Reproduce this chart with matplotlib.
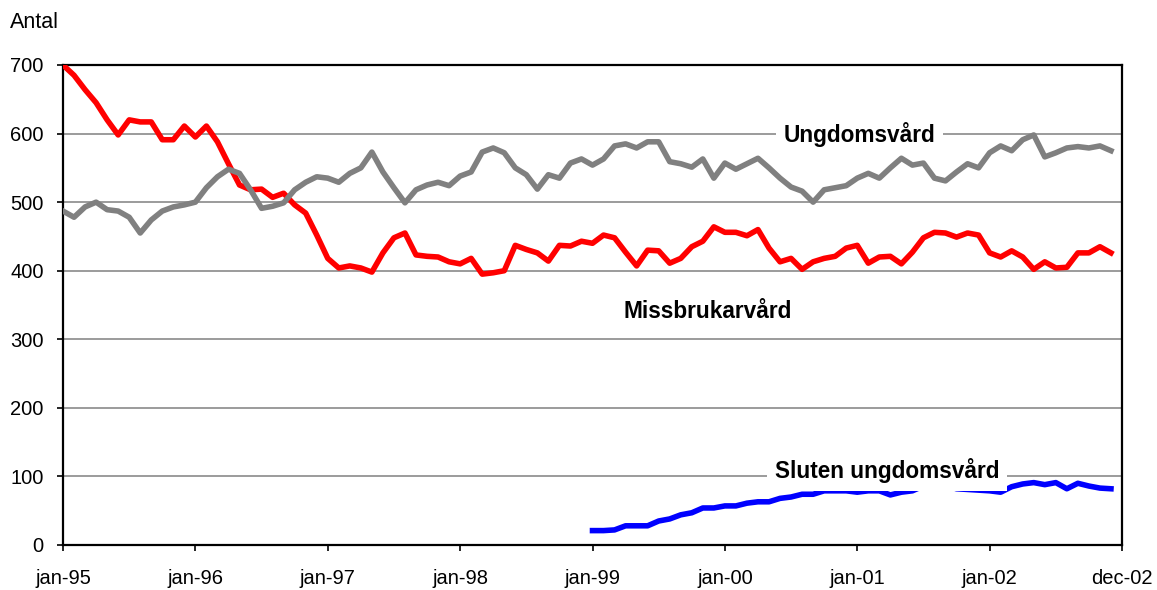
import numpy as np
import matplotlib
matplotlib.use("Agg")
import matplotlib.pyplot as plt

plt.rcParams['font.family'] = ['Liberation Sans', 'DejaVu Sans']

# monthly values, jan-95 .. dec-02
missbruk = [700, 685, 664, 645, 620, 598, 620, 617, 617, 591, 591, 611,
            595, 611, 588, 556, 525, 518, 519, 507, 513, 496, 484, 452,
            418, 404, 407, 404, 398, 426, 448, 455, 423, 421, 420, 413,
            410, 418, 395, 397, 400, 437, 431, 426, 414, 437, 436, 443,
            440, 452, 448, 427, 407, 430, 429, 411, 418, 435, 443, 464,
            456, 456, 451, 460, 433, 413, 418, 402, 413, 418, 421, 433,
            437, 411, 420, 421, 410, 427, 448, 456, 455, 449, 455, 452,
            426, 420, 429, 420, 402, 413, 404, 405, 426, 426, 435, 426]

ungdom = [487, 478, 493, 500, 489, 487, 478, 455, 474, 487, 493, 496,
          500, 521, 537, 548, 542, 518, 491, 494, 499, 518, 529, 537,
          535, 529, 542, 550, 573, 544, 521, 499, 518, 525, 529, 524,
          538, 544, 573, 579, 572, 550, 540, 519, 540, 535, 557, 563,
          554, 563, 582, 585, 579, 588, 588, 559, 556, 551, 563, 535,
          557, 548, 556, 564, 550, 535, 522, 516, 500, 518, 521, 524,
          535, 542, 535, 550, 564, 554, 557, 535, 531, 544, 556, 550,
          572, 582, 575, 591, 598, 566, 572, 579, 581, 579, 582, 575]

# starts jan-99
sluten = [21, 21, 22, 28, 28, 28, 35, 38, 44, 47, 54, 54,
          57, 57, 61, 63, 63, 68, 70, 74, 74, 79, 79, 79,
          77, 79, 79, 73, 77, 79, 86, 88, 87, 82, 81, 80,
          79, 77, 85, 89, 91, 88, 91, 82, 90, 86, 83, 82]

tick_labels = ['jan-95', 'jan-96', 'jan-97', 'jan-98', 'jan-99',
               'jan-00', 'jan-01', 'jan-02', 'dec-02']

m_all = np.arange(len(missbruk))
m_sluten = np.arange(48, 48 + len(sluten))

fig = plt.figure(figsize=(11.57, 5.90), dpi=100)
ax = fig.add_axes([63/1157, 45/590, 1059/1157, 480/590])

ax.plot(m_all, missbruk, color='#ff0000', lw=4.0, zorder=3)
ax.plot(m_all, ungdom, color='#808080', lw=4.0, zorder=3)
ax.plot(m_sluten, sluten, color='#0000ff', lw=4.0, zorder=3)

ax.set_xlim(0, 96)
ax.set_ylim(0, 700)
ax.set_xticks(np.arange(0, 97, 12))
ax.set_xticklabels(tick_labels)
ax.set_yticks(np.arange(0, 701, 100))
ax.yaxis.grid(True, color='#808080', lw=1.1)
ax.set_axisbelow(True)
for s in ax.spines.values():
    s.set_linewidth(1.6)
    s.set_color('black')
ax.tick_params(axis='both', labelsize=14.5, length=4, width=1.2, direction='out')
ax.tick_params(axis='x', pad=13)
ax.tick_params(axis='y', pad=10)

fig.text(10/1157, 1 - 22/590, 'Antal', fontsize=15.5, va='center', ha='left')

box = dict(boxstyle='square,pad=0.35', fc='white', ec='none')
ax.text(72.2, 598, 'Ungdomsvård', fontsize=16.3, fontweight='bold',
        ha='center', va='center', bbox=box, zorder=4)
ax.text(58.4, 341, 'Missbrukarvård', fontsize=16.3, fontweight='bold',
        ha='center', va='center', zorder=4)
ax.text(74.7, 108, 'Sluten ungdomsvård', fontsize=16.3, fontweight='bold',
        ha='center', va='center', bbox=box, zorder=4)

fig.savefig('out.png', dpi=100)
